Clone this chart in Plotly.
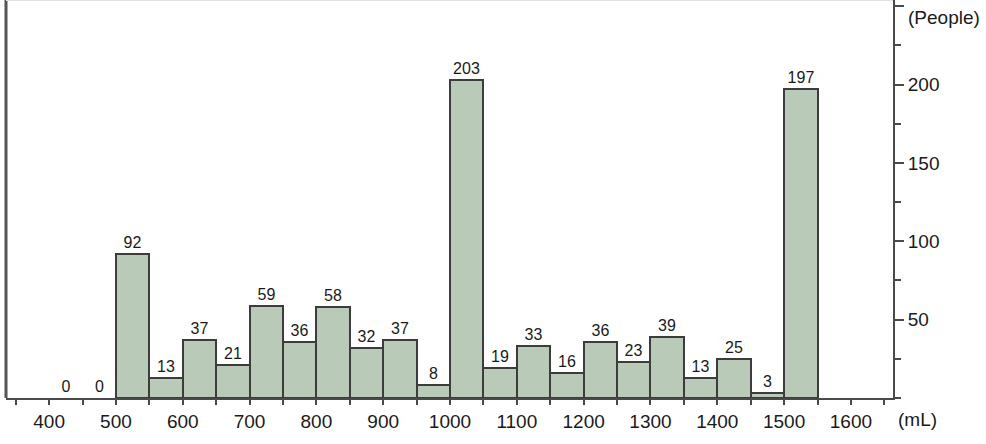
import plotly.graph_objects as go

bin_starts = [400, 450, 500, 550, 600, 650, 700, 750, 800, 850, 900, 950,
              1000, 1050, 1100, 1150, 1200, 1250, 1300, 1350, 1400, 1450, 1500]
counts = [0, 0, 92, 13, 37, 21, 59, 36, 58, 32, 37, 8,
          203, 19, 33, 16, 36, 23, 39, 13, 25, 3, 197]
bin_width = 50
x_tick_vals = list(range(350, 1700, 50))
x_tick_text = [str(v) if (v % 100 == 0 and 400 <= v <= 1600) else "" for v in x_tick_vals]
y_tick_vals = [50, 100, 150, 200, 250]
y_tick_text = ["50", "100", "150", "200", ""]

centers = [s + bin_width / 2 for s in bin_starts]
line_widths = [2 if c > 0 else 0 for c in counts]

FONT = "Liberation Sans, Arial, sans-serif"
AXIS_COLOR = "#4a4a4a"

fig = go.Figure()
fig.add_trace(go.Bar(
    x=centers, y=counts, width=bin_width,
    marker=dict(color="#b9cab9", line=dict(color="#3c3c3c", width=line_widths)),
    text=[str(c) for c in counts], textposition="outside",
    textfont=dict(family=FONT, size=16, color="#1a1a1a"),
    cliponaxis=False,
))

fig.update_layout(
    width=986, height=444,
    margin=dict(l=6, r=93, t=0, b=46),
    paper_bgcolor="white", plot_bgcolor="white",
    showlegend=False,
    bargap=0,
    xaxis=dict(
        range=[335.5, 1663], tickmode="array", tickvals=x_tick_vals, ticktext=x_tick_text,
        ticks="outside", ticklen=5, tickwidth=2, tickcolor=AXIS_COLOR,
        showline=True, linewidth=2, linecolor=AXIS_COLOR,
        showgrid=False, zeroline=False,
        tickfont=dict(family=FONT, size=19, color="#1a1a1a"),
    ),
    yaxis=dict(
        side="right", range=[0, 254], tickmode="array",
        tickvals=y_tick_vals, ticktext=y_tick_text,
        ticks="outside", ticklen=9, tickwidth=2, tickcolor=AXIS_COLOR,
        minor=dict(dtick=25, tick0=0, ticks="outside", ticklen=6, tickwidth=2, tickcolor=AXIS_COLOR),
        showline=True, linewidth=2, linecolor=AXIS_COLOR,
        showgrid=False, zeroline=False,
        tickfont=dict(family=FONT, size=19, color="#1a1a1a"),
    ),
    shapes=[
        dict(type="line", xref="paper", yref="paper", x0=0, x1=0, y0=0, y1=1,
             line=dict(color="#555555", width=3)),
        dict(type="line", xref="paper", yref="paper", x0=0, x1=1, y0=1, y1=1,
             line=dict(color="#e2e2e2", width=2)),
    ],
    annotations=[
        dict(text="(mL)", xref="paper", yref="paper", x=1.028, y=-0.055,
             showarrow=False, xanchor="center", yanchor="middle",
             font=dict(family=FONT, size=19, color="#1a1a1a")),
        dict(text="(People)", xref="paper", yref="paper", x=1.0575, y=0.955,
             showarrow=False, xanchor="center", yanchor="middle",
             font=dict(family=FONT, size=19, color="#1a1a1a")),
    ],
)

fig.write_html("out.html", config={"displayModeBar": False},
               post_script="document.body.style.margin='0';document.body.style.overflow='hidden';")
